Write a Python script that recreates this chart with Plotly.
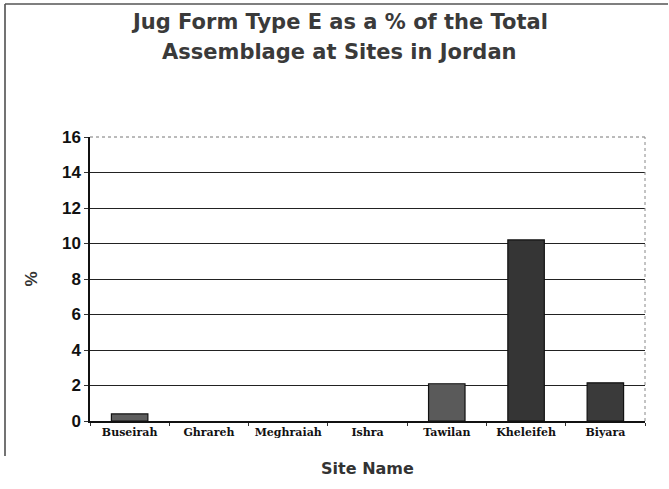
import plotly.graph_objects as go

sites = ["Buseirah", "Ghrareh", "Meghraiah", "Ishra", "Tawilan", "Kheleifeh", "Biyara"]
percent = [0.4, 0, 0, 0, 2.1, 10.2, 2.15]
bar_colors = ["#5e5e5e", "#5e5e5e", "#5e5e5e", "#5e5e5e", "#5a5a5a", "#353535", "#3a3a3a"]
y_ticks = [0, 2, 4, 6, 8, 10, 12, 14, 16]
title_lines = ["Jug Form Type E as a % of the Total", "Assemblage at Sites in Jordan"]

fig = go.Figure(go.Bar(
    x=sites, y=percent,
    marker=dict(color=bar_colors,
                line=dict(color="#111111", width=[1.2 if v > 0 else 0 for v in percent])),
    width=0.46,
))

L, R, T, B = 90, 24, 137, 68
W, H = 669, 489
pw, ph = W - L - R, H - T - B

def px_y(py):
    return (H - B - py) / ph

def px_x(px):
    return (px - L) / pw

fig.update_layout(
    width=W, height=H,
    margin=dict(l=L, r=R, t=T, b=B),
    paper_bgcolor="white", plot_bgcolor="white",
    showlegend=False,
    xaxis=dict(
        showline=True, linecolor="#111111", linewidth=1.5,
        ticks="outside", ticklen=3, tickcolor="#333", tickson="boundaries",
        tickfont=dict(family="DejaVu Serif", size=11, color="#111111", weight="bold"),
        title=dict(text="Site Name", standoff=25,
                   font=dict(family="DejaVu Sans", size=16, color="#333", weight="bold")),
    ),
    yaxis=dict(
        range=[0, 16], tickvals=y_ticks, ticktext=[str(v) for v in y_ticks],
        showline=True, linecolor="#111111", linewidth=1.5,
        ticks="outside", ticklen=4, tickcolor="#333",
        showgrid=True, gridcolor="#222222", gridwidth=1,
        zeroline=False,
        tickfont=dict(family="Liberation Sans", size=17, color="#111111", weight="bold"),
        title=dict(text="%", standoff=20,
                   font=dict(family="Liberation Sans", size=17, color="#333", weight="bold")),
    ),
)

for line_text, py in zip(title_lines, [22, 52]):
    fig.add_annotation(
        text=line_text, xref="paper", yref="paper", x=px_x(339), y=px_y(py),
        xanchor="center", yanchor="middle", showarrow=False,
        font=dict(family="DejaVu Sans", size=21, color="#3a3a3a", weight="bold"),
    )

# top edge of plot area: faint dotted instead of solid
fig.add_shape(type="line", xref="paper", yref="paper", x0=0.003, x1=1, y0=1, y1=1,
              line=dict(color="white", width=2))
fig.add_shape(type="line", xref="paper", yref="paper", x0=0, x1=1, y0=1, y1=1,
              line=dict(color="#777777", width=1, dash="dot"))
# plot-area right edge (dotted)
fig.add_shape(type="line", xref="paper", yref="paper", x0=1, x1=1, y0=0, y1=1,
              line=dict(color="#888888", width=1, dash="dot"))
# outer page frame (left and top)
fig.add_shape(type="line", xref="paper", yref="paper",
              x0=px_x(5), x1=px_x(5), y0=px_y(4), y1=px_y(456),
              line=dict(color="#444444", width=1.5))
fig.add_shape(type="line", xref="paper", yref="paper",
              x0=px_x(5), x1=px_x(668), y0=px_y(4), y1=px_y(4),
              line=dict(color="#555555", width=1.5))

fig.write_html("out.html")
